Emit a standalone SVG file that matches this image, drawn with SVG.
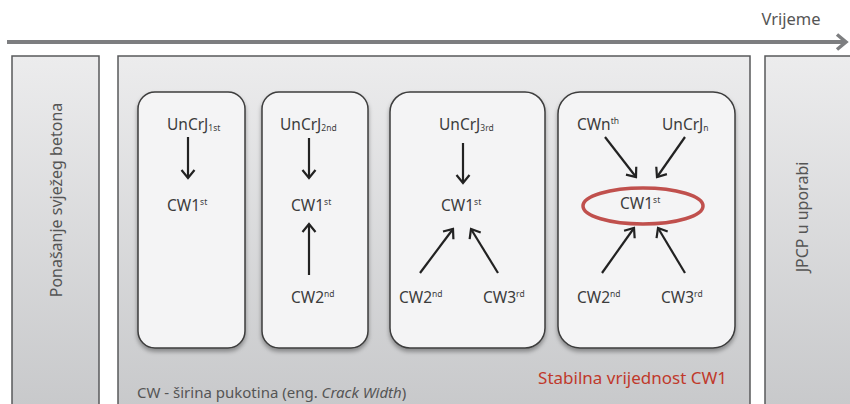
<svg xmlns="http://www.w3.org/2000/svg" width="850" height="404" viewBox="0 0 850 404">
  <defs>
    <linearGradient id="panelFill" x1="0" y1="0" x2="0" y2="1">
      <stop offset="0" stop-color="#ececed"/>
      <stop offset="1" stop-color="#c7c8ca"/>
    </linearGradient>
    <filter id="boxShadow" x="-10%" y="-10%" width="120%" height="120%">
      <feDropShadow dx="0" dy="3" stdDeviation="2" flood-color="#000" flood-opacity="0.35"/>
    </filter>
    <marker id="head" viewBox="-10 -8 12 16" markerWidth="12" markerHeight="16" refX="0" refY="0" orient="auto" markerUnits="userSpaceOnUse">
      <path d="M-8,-6.5 L0,0 L-8,6.5" fill="none" stroke="#222" stroke-width="2.2" stroke-linejoin="miter"/>
    </marker>
    <style>
      .panel { fill: url(#panelFill); stroke: #58595b; stroke-width: 1.5; }
      .box { fill: #f4f4f5; stroke: #3d3d3d; stroke-width: 1.5; filter: url(#boxShadow); }
      .lbl { font-family: "Noto Sans", "Open Sans", sans-serif; font-size: 15.5px; fill: #3c3c3c; }
      .sm { font-size: 8.5px; }
      .side { font-family: "Noto Sans", "Open Sans", sans-serif; font-size: 16px; fill: #555; text-anchor: middle; }
      .cap { font-family: "Noto Sans", "Open Sans", sans-serif; font-size: 15px; fill: #555; }
      .red { font-family: "Noto Sans", "Open Sans", sans-serif; font-size: 17px; fill: #c0392b; }
      .conn line { stroke: #222; stroke-width: 2.2; marker-end: url(#head); }
    </style>
  </defs>

  <!-- time axis -->
  <g id="timeline">
    <line x1="7" y1="42" x2="845" y2="42" stroke="#7d7e80" stroke-width="4"/>
    <path d="M837,34.5 L846,42 L837,49.5" fill="none" stroke="#7d7e80" stroke-width="3.5"/>
    <text x="791" y="25" class="side" style="font-size:16.5px">Vrijeme</text>
  </g>

  <!-- phase panels -->
  <g id="fresh-concrete">
    <rect class="panel" x="12" y="56" width="87" height="360"/>
    <text class="side" transform="translate(62,200) rotate(-90)">Ponašanje svježeg betona</text>
  </g>
  <g id="crack-phase">
    <rect class="panel" x="118" y="56" width="632" height="360"/>
    <text class="cap" x="137" y="398">CW - širina pukotina (eng. <tspan font-style="italic">Crack Width</tspan>)</text>
    <text class="red" x="727" y="384" text-anchor="end">Stabilna vrijednost CW1</text>
  </g>
  <g id="in-service">
    <rect class="panel" x="765" y="56" width="95" height="360"/>
    <text class="side" transform="translate(808,217) rotate(-90)">JPCP u uporabi</text>
  </g>

  <!-- stage 1 -->
  <g id="stage1">
    <rect class="box" x="138" y="92" width="107" height="256" rx="17"/>
    <text class="lbl" x="167" y="130">UnCrJ<tspan class="sm" dy="1">1st</tspan></text>
    <text class="lbl" x="167" y="211">CW1<tspan class="sm" dy="-6">st</tspan></text>
  </g>

  <!-- stage 2 -->
  <g id="stage2">
    <rect class="box" x="262" y="92" width="106" height="256" rx="17"/>
    <text class="lbl" x="280" y="130">UnCrJ<tspan class="sm" dy="1">2nd</tspan></text>
    <text class="lbl" x="291" y="211">CW1<tspan class="sm" dy="-6">st</tspan></text>
    <text class="lbl" x="291" y="303">CW2<tspan class="sm" dy="-6">nd</tspan></text>
  </g>

  <!-- stage 3 -->
  <g id="stage3">
    <rect class="box" x="390" y="92" width="155" height="256" rx="20"/>
    <text class="lbl" x="439" y="130">UnCrJ<tspan class="sm" dy="1">3rd</tspan></text>
    <text class="lbl" x="441" y="211">CW1<tspan class="sm" dy="-6">st</tspan></text>
    <text class="lbl" x="399" y="303">CW2<tspan class="sm" dy="-6">nd</tspan></text>
    <text class="lbl" x="483" y="303">CW3<tspan class="sm" dy="-6">rd</tspan></text>
  </g>

  <!-- stage n -->
  <g id="stageN">
    <rect class="box" x="558" y="92" width="177" height="256" rx="22"/>
    <ellipse cx="643" cy="206" rx="60" ry="18" fill="none" stroke="#c0504d" stroke-width="3.5"/>
    <text class="lbl" x="577" y="130">CWn<tspan class="sm" dy="-6">th</tspan></text>
    <text class="lbl" x="662" y="130">UnCrJ<tspan class="sm" dy="1">n</tspan></text>
    <text class="lbl" x="620" y="209">CW1<tspan class="sm" dy="-6">st</tspan></text>
    <text class="lbl" x="577" y="303">CW2<tspan class="sm" dy="-6">nd</tspan></text>
    <text class="lbl" x="661" y="303">CW3<tspan class="sm" dy="-6">rd</tspan></text>
  </g>

  <!-- connectors -->
  <g id="connectors" class="conn">
    <line x1="188" y1="137" x2="188" y2="178"/>
    <line x1="309" y1="138" x2="309" y2="178"/>
    <line x1="309" y1="275" x2="309" y2="224"/>
    <line x1="463" y1="143" x2="463" y2="183"/>
    <line x1="420" y1="273" x2="453" y2="229"/>
    <line x1="498" y1="273" x2="471" y2="229"/>
    <line x1="605" y1="137" x2="636" y2="177"/>
    <line x1="685" y1="137" x2="657" y2="177"/>
    <line x1="602" y1="273" x2="634" y2="228"/>
    <line x1="685" y1="273" x2="658" y2="228"/>
  </g>
</svg>
